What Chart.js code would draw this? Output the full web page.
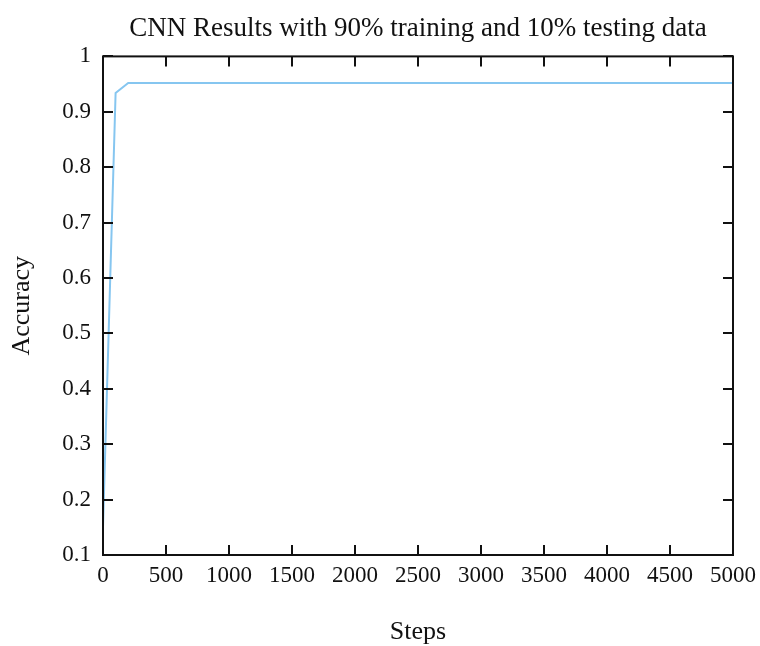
<!DOCTYPE html>
<html>
<head>
<meta charset="utf-8">
<script src="https://cdn.jsdelivr.net/npm/chart.js@4.4.1/dist/chart.umd.min.js"></script>
<style>
  html, body { margin: 0; padding: 0; background: #fff; }
  #wrap { width: 760px; height: 646px; }
</style>
</head>
<body>
<div id="wrap"><canvas id="accChart" width="760" height="646"></canvas></div>
<script>
// Accuracy per training step
const steps = [0, 100, 200, 500, 1000, 1500, 2000, 2500, 3000, 3500, 4000, 4500, 5000];
const accuracy = [0.15, 0.934, 0.952, 0.952, 0.952, 0.952, 0.952, 0.952, 0.952, 0.952, 0.952, 0.952, 0.952];

const xTicks = [0, 500, 1000, 1500, 2000, 2500, 3000, 3500, 4000, 4500, 5000];
const yTicks = [0.1, 0.2, 0.3, 0.4, 0.5, 0.6, 0.7, 0.8, 0.9, 1];

const FONT = 'Liberation Serif';

// frame around the plot with inward ticks on all four sides
const framePlugin = {
  id: 'frame',
  afterDraw(chart) {
    const { ctx, chartArea: a, scales } = chart;
    const len = 10;
    ctx.save();
    ctx.strokeStyle = '#111';
    ctx.lineWidth = 2;
    ctx.beginPath();
    xTicks.forEach(v => {
      const px = Math.round(scales.x.getPixelForValue(v));
      ctx.moveTo(px, a.bottom); ctx.lineTo(px, a.bottom - len);
      ctx.moveTo(px, a.top); ctx.lineTo(px, a.top + len);
    });
    yTicks.forEach(v => {
      const py = Math.round(scales.y.getPixelForValue(v));
      ctx.moveTo(a.left, py); ctx.lineTo(a.left + len, py);
      ctx.moveTo(a.right, py); ctx.lineTo(a.right - len, py);
    });
    ctx.stroke();
    ctx.strokeRect(a.left, a.top, a.right - a.left, a.bottom - a.top);
    ctx.restore();
  }
};

new Chart(document.getElementById('accChart'), {
  type: 'line',
  data: {
    datasets: [{
      data: steps.map((s, i) => ({ x: s, y: accuracy[i] })),
      borderColor: '#86c6f0',
      borderWidth: 2,
      pointRadius: 0,
      tension: 0,
      fill: false
    }]
  },
  options: {
    responsive: false,
    animation: false,
    layout: { padding: { left: 0, right: 27, top: 0, bottom: 0 } },
    plugins: {
      legend: { display: false },
      tooltip: { enabled: false },
      title: {
        display: true,
        fullSize: false,
        text: 'CNN Results with 90% training and 10% testing data',
        color: '#111',
        font: { family: FONT, size: 27, weight: 'normal' },
        padding: { top: 13, bottom: 11 }
      }
    },
    scales: {
      x: {
        type: 'linear',
        min: 0,
        max: 5000,
        afterBuildTicks: s => { s.ticks = xTicks.map(v => ({ value: v })); },
        afterFit: s => { s.height = 91; s.paddingLeft = 0; s.paddingRight = 0; },
        grid: { display: false, drawTicks: false },
        border: { display: false },
        ticks: {
          color: '#111',
          padding: 7,
          maxRotation: 0,
          font: { family: FONT, size: 23 },
          callback: v => String(v)
        },
        title: {
          display: true,
          text: 'Steps',
          color: '#111',
          font: { family: FONT, size: 26, lineHeight: 1.1 },
          padding: { top: 0, bottom: 0 }
        }
      },
      y: {
        min: 0.1,
        max: 1,
        afterBuildTicks: s => { s.ticks = yTicks.map(v => ({ value: v })); },
        afterFit: s => { s.width = 103; },
        grid: { display: false, drawTicks: false },
        border: { display: false },
        ticks: {
          color: '#111',
          padding: 12,
          font: { family: FONT, size: 23 },
          callback: v => String(Math.round(v * 10) / 10)
        },
        title: {
          display: true,
          text: 'Accuracy',
          color: '#111',
          font: { family: FONT, size: 26 },
          padding: { top: 7, bottom: 0 }
        }
      }
    }
  },
  plugins: [framePlugin]
});
</script>
</body>
</html>
